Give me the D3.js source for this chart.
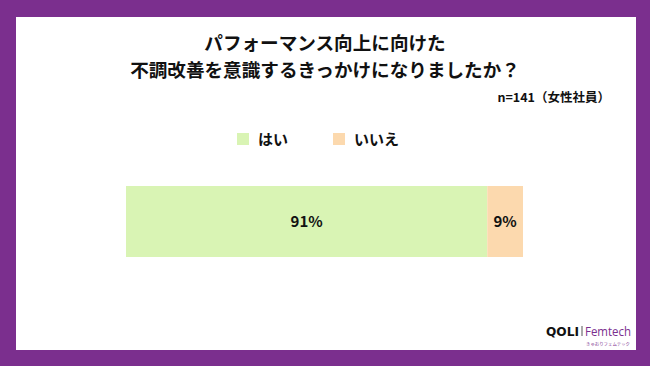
<!DOCTYPE html>
<html><head><meta charset="utf-8">
<script src="https://cdn.jsdelivr.net/npm/d3@7"></script>
<style>html,body{margin:0;padding:0;background:#7B2F8E;}svg{display:block;}</style>
</head><body>
<script>
const categories = ["はい", "いいえ"];
const values = [91, 9];
const valueLabels = ["91%", "9%"];
const colors = ["#D9F4B4", "#FCD9AE"];
const titleLines = ["パフォーマンス向上に向けた", "不調改善を意識するきっかけになりましたか？"];
const note = "n=141（女性社員）";

const W = 650, H = 366;
const font = "'Noto Sans CJK JP', 'Noto Sans', sans-serif";
const svg = d3.select("body").append("svg").attr("width", W).attr("height", H);
svg.append("rect").attr("width", W).attr("height", H).attr("fill", "#7B2F8E");
svg.append("rect").attr("x", 16).attr("y", 17).attr("width", 620).attr("height", 333).attr("fill", "#fff");

svg.selectAll("text.title").data(titleLines).join("text")
  .attr("x", 325).attr("y", (d, i) => 50 + i * 27)
  .attr("text-anchor", "middle").attr("font-family", font).attr("font-weight", 700)
  .attr("font-size", 18.6).attr("fill", "#111").text(d => d);

svg.append("text").attr("x", 610).attr("y", 102).attr("text-anchor", "end")
  .attr("font-family", font).attr("font-weight", 700).attr("font-size", 12.5).attr("fill", "#111").text(note);

// legend
const lx = [237, 333];
const lg = svg.selectAll("g.leg").data(categories).join("g").attr("transform", (d, i) => `translate(${lx[i]},133)`);
lg.append("rect").attr("width", 12).attr("height", 12).attr("fill", (d, i) => colors[i]);
lg.append("text").attr("x", 21).attr("y", 12).attr("font-family", font).attr("font-weight", 700)
  .attr("font-size", 15).attr("fill", "#111").text(d => d);

// bar
const x = d3.scaleLinear().domain([0, 100]).range([126, 523]);
const y = d3.scaleBand().domain(["all"]).range([186, 257]);
let cum = 0;
const segs = values.map((v, i) => { const s = { v, i, x0: cum, x1: cum + v }; cum += v; return s; });
svg.selectAll("rect.seg").data(segs).join("rect")
  .attr("x", d => x(d.x0)).attr("y", y("all")).attr("width", d => x(d.x1) - x(d.x0))
  .attr("height", y.bandwidth()).attr("fill", d => colors[d.i]);
svg.selectAll("text.lab").data(segs).join("text")
  .attr("x", d => (x(d.x0) + x(d.x1)) / 2).attr("y", y("all") + y.bandwidth() / 2 + 5.5)
  .attr("text-anchor", "middle").attr("font-family", font).attr("font-weight", 700)
  .attr("font-size", 15).attr("fill", "#111").text(d => valueLabels[d.i]);

// logo
svg.append("text").attr("x", 546).attr("y", 336).attr("font-family", "'DejaVu Sans', sans-serif")
  .attr("font-weight", 700).attr("font-size", 12).attr("fill", "#111")
  .attr("textLength", 33).attr("lengthAdjust", "spacingAndGlyphs").text("QOLI");
svg.append("line").attr("x1", 582).attr("x2", 582).attr("y1", 326).attr("y2", 336).attr("stroke", "#555").attr("stroke-width", 1);
svg.append("text").attr("x", 585).attr("y", 336).attr("font-family", "'Open Sans', sans-serif")
  .attr("font-size", 13).attr("fill", "#7B2F8E")
  .attr("textLength", 46).attr("lengthAdjust", "spacingAndGlyphs").text("Femtech");
svg.append("text").attr("x", 586).attr("y", 346).attr("font-family", font)
  .attr("font-size", 4).attr("fill", "#7B2F8E")
  .attr("textLength", 44).attr("lengthAdjust", "spacingAndGlyphs").text("きゅおりフェムテック");
</script>
</body></html>
